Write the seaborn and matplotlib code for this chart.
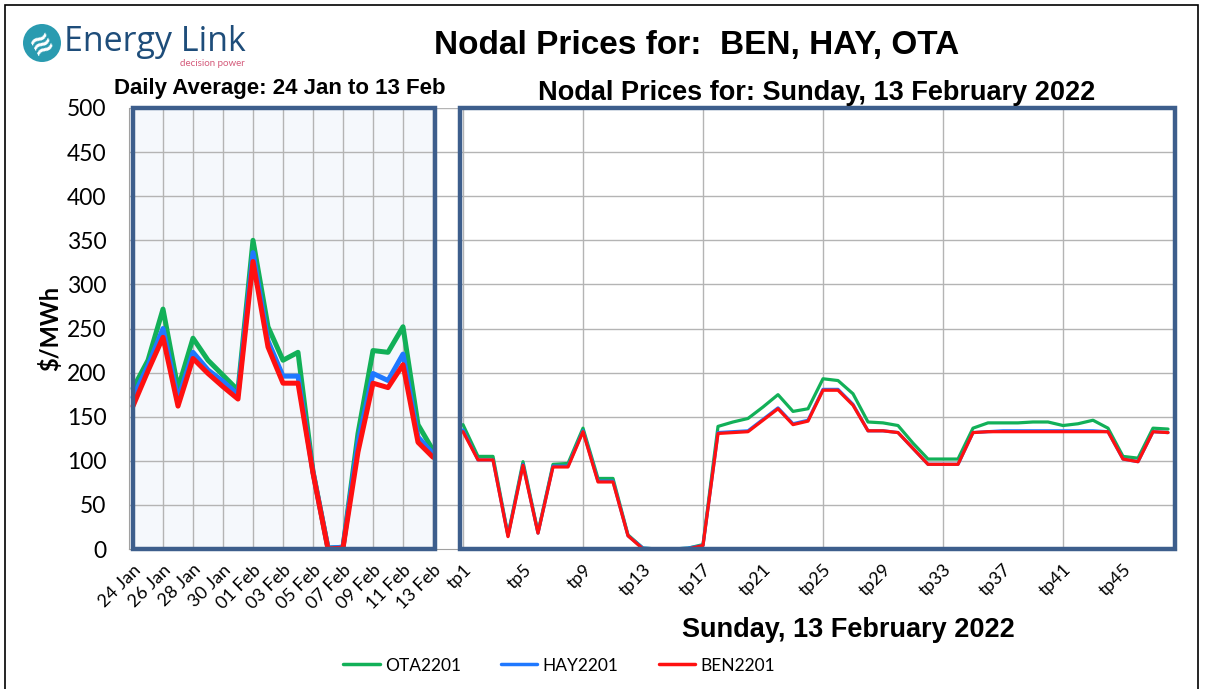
import numpy as np
import pandas as pd
import matplotlib
matplotlib.use("Agg")
import matplotlib.pyplot as plt
from matplotlib.patches import Rectangle, Ellipse
from matplotlib.lines import Line2D
import seaborn as sns

# ---------------- data ----------------
nodes = ["OTA2201", "HAY2201", "BEN2201"]
colors = ["#12B058", "#1F78FF", "#FF1010"]

day_labels = ["24 Jan", "25 Jan", "26 Jan", "27 Jan", "28 Jan", "29 Jan", "30 Jan",
              "31 Jan", "01 Feb", "02 Feb", "03 Feb", "04 Feb", "05 Feb", "06 Feb",
              "07 Feb", "08 Feb", "09 Feb", "10 Feb", "11 Feb", "12 Feb", "13 Feb"]
daily_ota = [182, 214, 272, 182, 239, 214, 197, 180, 350, 252, 214, 223, 88, 1, 2,
             131, 225, 223, 252, 141, 112]
daily_hay = [172, 208, 250, 170, 223, 203, 190, 175, 336, 236, 196, 196, 87, 1, 2,
             121, 199, 191, 221, 127, 108]
daily_ben = [162, 202, 240, 162, 216, 199, 184, 170, 326, 229, 188, 188, 86, 0, 1,
             110, 188, 183, 209, 121, 104]

tp_labels = ["tp%d" % i for i in range(1, 49)]
tp_ota = [141, 105, 105, 16, 99, 19, 96, 97, 137, 80, 80, 16, 1, 0, 0, 1,
          5, 139, 144, 148, 161, 175, 156, 159, 193, 191, 176, 144, 143, 140, 120, 102,
          102, 102, 137, 143, 143, 143, 144, 144, 140, 142, 146, 137, 105, 103, 137, 136]
tp_hay = [135, 101, 101, 15, 96, 18, 94, 94, 134, 77, 77, 15, 1, 0, 0, 1,
          4, 132, 133, 134, 147, 160, 142, 146, 181, 181, 164, 134, 134, 132, 114, 96,
          96, 96, 132, 133, 134, 134, 134, 134, 134, 134, 134, 133, 102, 99, 133, 132]
tp_ben = [133, 101, 101, 14, 95, 18, 93, 93, 133, 76, 76, 15, 0, 0, 0, 0,
          4, 131, 132, 133, 146, 159, 141, 145, 180, 180, 163, 134, 134, 132, 114, 96,
          96, 96, 132, 133, 133, 133, 133, 133, 133, 133, 133, 133, 102, 99, 133, 132]

# x positions: days 0..20, gap, then tp1..tp48 at 22..69
day_x = np.arange(len(day_labels))
tp_x = np.arange(len(tp_labels)) + len(day_labels) + 1

daily = pd.DataFrame({
    "x": np.tile(day_x, 3),
    "price": daily_ota + daily_hay + daily_ben,
    "node": np.repeat(nodes, len(day_x)),
})
trading = pd.DataFrame({
    "x": np.tile(tp_x, 3),
    "price": tp_ota + tp_hay + tp_ben,
    "node": np.repeat(nodes, len(tp_x)),
})

# ---------------- figure ----------------
sns.set_style("white")
plt.rcParams["font.family"] = ["Lato", "DejaVu Sans"]
plt.rcParams.update({"text.color": "black", "axes.labelcolor": "black",
                     "xtick.color": "black", "ytick.color": "black"})

fig = plt.figure(figsize=(12.05, 6.89), dpi=100)
ax = fig.add_axes([128.5 / 1205, 140 / 689, 1047 / 1205, 441 / 689])
ax.set_xlim(-0.3, 69.5)
ax.set_ylim(0, 500)

box_col = "#3D5E8C"
# panel backgrounds and frames
ax.add_patch(Rectangle((0, 0), 20.1, 500, facecolor="#F5F8FC", edgecolor="none", zorder=0.5))
ax.add_patch(Rectangle((0, 0), 20.1, 500, facecolor="none", edgecolor=box_col, lw=3.2,
                       zorder=5, clip_on=False))
ax.add_patch(Rectangle((21.8, 0), 47.65, 500, facecolor="none", edgecolor=box_col, lw=3.2,
                       zorder=5, clip_on=False))

# grid
for yv in range(50, 501, 50):
    ax.axhline(yv, color="#B4B4B4", lw=1, zorder=1)
for xv in list(day_x[::2]) + list(tp_x[::8]):
    ax.axvline(xv, color="#B4B4B4", lw=1, zorder=1)

sns.lineplot(data=daily, x="x", y="price", hue="node", hue_order=nodes,
             palette=colors, lw=3.6, legend=False, ax=ax, zorder=3)
sns.lineplot(data=trading, x="x", y="price", hue="node", hue_order=nodes,
             palette=colors, lw=2.3, legend=False, ax=ax, zorder=3)

# ticks
xt = list(day_x[::2]) + list(tp_x[::4])
xl = day_labels[::2] + tp_labels[::4]
ax.set_xticks(xt)
ax.set_xticklabels(xl, rotation=45, ha="right", rotation_mode="anchor", fontsize=13)
ax.set_xticks(np.arange(0, 70), minor=True)
ax.tick_params(axis="x", which="both", length=5, color="#A0A0A0", direction="out", pad=4)
ax.set_yticks(range(0, 501, 50))
ax.tick_params(axis="y", labelsize=16.5, length=5, color="#A0A0A0", direction="out", pad=11)
ax.set_xlabel("")
ax.set_ylabel("$/MWh", fontsize=17, fontweight="bold", labelpad=3)
for s in ["top", "right"]:
    ax.spines[s].set_visible(False)
for s in ["left", "bottom"]:
    ax.spines[s].set_color("#A0A0A0")

# titles
fig.text(0.578, 0.934, "Nodal Prices for:  BEN, HAY, OTA", ha="center", va="center",
         fontsize=24, fontweight="bold", family="Liberation Sans")
fig.text(0.232, 0.872, "Daily Average: 24 Jan to 13 Feb", ha="center", va="center",
         fontsize=16, fontweight="bold", family="Liberation Sans")
fig.text(0.678, 0.865, "Nodal Prices for: Sunday, 13 February 2022", ha="center", va="center",
         fontsize=19.5, fontweight="bold", family="Liberation Sans")
fig.text(0.704, 0.085, "Sunday, 13 February 2022", ha="center", va="center",
         fontsize=19.5, fontweight="bold", family="Liberation Sans")

# logo
logo = Ellipse((42 / 1205, 1 - 43 / 689), 38 / 1205, 38 / 689, transform=fig.transFigure,
               facecolor="#2A9BB0", edgecolor="none")
fig.patches.append(logo)
fig.text(42 / 1205, 1 - 43 / 689, "≋", ha="center", va="center", color="white",
         fontsize=20, fontweight="bold", family="DejaVu Sans", rotation=30)
fig.text(64 / 1205, 1 - 42 / 689, "Energy Link", ha="left", va="center",
         fontsize=24.5, color="#1E4D7A", family="Open Sans")
fig.text(212 / 1205, 1 - 63 / 689, "decision power", ha="center", va="center",
         fontsize=7, color="#D45A7A")

# legend
handles = [Line2D([], [], color=c, lw=2.5) for c in colors]
fig.legend(handles, nodes, loc="center", bbox_to_anchor=(0.464, 0.034), ncol=3,
           frameon=False, fontsize=12.5, handlelength=2.1, columnspacing=2.3, handletextpad=0.3)

# outer frame
fig.patches.append(Rectangle((5 / 1205, -0.01), 1193 / 1205, 1 - 5 / 689 + 0.01,
                             transform=fig.transFigure, facecolor="none",
                             edgecolor="black", lw=1.2))

fig.savefig("out.png", dpi=100)
